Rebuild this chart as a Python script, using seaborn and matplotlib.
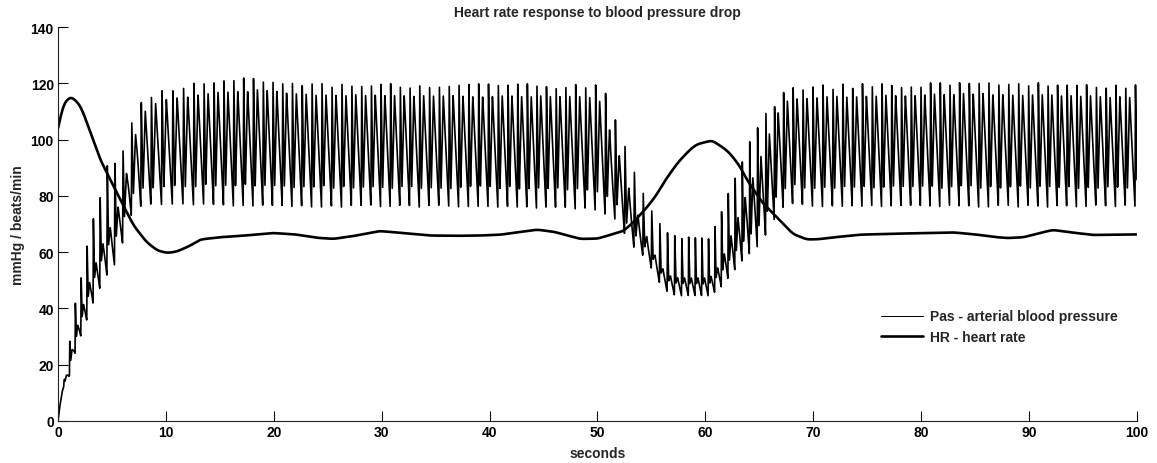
import numpy as np
import pandas as pd
import matplotlib
matplotlib.use("Agg")
import matplotlib.pyplot as plt
from matplotlib.lines import Line2D
import seaborn as sns

# ---------------- data ----------------
# heart rate (beats/min) at time knots (s)
hr_t = [0, 0.5, 1.2, 2.0, 2.35, 3.9, 5.6, 7.0, 8.2, 9.2, 10.1, 11.0, 12.2, 13.2, 15, 17, 19.9,
        22, 24, 25.5, 27.5, 29.8, 32, 34.5, 37, 39.1, 41, 42.5, 44.4, 46, 48.4, 50, 51.5,
        52.4, 53.3, 54.6, 55.5, 56.1, 57.0, 57.6, 58.6, 59.2, 60.6, 61.7, 62.3, 63.2, 63.8,
        64.5, 65.3, 66.6, 68.1, 69.4, 70.5, 72, 74.3, 77, 80.5, 83, 85, 86.7, 88, 89.5, 91,
        92.2, 93.5, 95.9, 98, 100]
hr_v = [104, 112.8, 115.4, 112.5, 109.5, 93, 80, 69.5, 63.6, 60.6, 59.7, 60.2, 62.2, 64.5, 65.3,
        65.8, 66.8, 66.3, 65.1, 64.7, 65.8, 67.5, 66.8, 65.9, 65.8, 65.9, 66.2, 67.0, 68.0, 67.2,
        64.7, 64.8, 66.5, 67.5, 70.5, 76, 80.5, 84.5, 89.5, 92.5, 96.5, 98.3, 99.7, 97, 95, 90.5,
        86, 82, 77.5, 72.5, 66.5, 64.5, 64.6, 65.3, 66.2, 66.5, 66.8, 67.0, 66.3, 65.4, 65.0,
        65.3, 66.8, 67.9, 67.2, 66.1, 66.2, 66.3]

# arterial pressure: systolic (beat peak) envelope
sys_t = [0, 0.5, 1.1, 1.65, 2.2, 2.8, 3.4, 4.0, 4.6, 5.4, 6.2, 6.5, 7.4, 8.4, 9.3, 11.5, 14, 17,
         19.5, 22, 25, 30, 35, 40, 45, 49.8, 50.7, 51.2, 52.1, 52.5, 53.2, 53.8, 54.6, 55.4,
         56.2, 56.9, 57.6, 60.2, 60.8, 61.4, 62.0, 62.6, 63.4, 64.2, 65.0, 65.7, 66.5, 67.2,
         68, 70, 75, 80, 85, 90, 95, 100]
sys_v = [0, 13, 29, 43, 53, 65, 74, 82, 92, 93, 98, 102, 113, 114.5, 118, 119.5, 121, 122,
         122.5, 121, 120.5, 120.5, 120, 120, 120, 119.8, 118, 111, 104, 98, 92, 85, 78, 73,
         69, 66.5, 65.8, 65.5, 69, 74, 80, 86, 93, 100, 106, 110, 114, 117, 119, 119.5, 120,
         120.5, 121, 120.5, 120, 119.5]

# arterial pressure: diastolic (beat trough) envelope
dia_t = [0, 0.15, 0.35, 0.6, 1.0, 1.3, 1.9, 2.6, 3.2, 3.85, 4.5, 5.2, 5.9, 6.5, 7.3, 10, 20,
         30, 40, 49.6, 52, 52.4, 53.3, 54.2, 55.2, 55.9, 56.7, 57.5, 60.5, 61.6, 62.3, 63.0,
         63.7, 64.4, 65.1, 65.9, 66.7, 67.8, 70, 80, 90, 100]
dia_v = [0, 5, 10, 13, 15, 20.5, 28, 35, 41.5, 47, 51.6, 55, 61.8, 71, 76, 77, 76, 76, 76, 75,
         71, 67, 62, 58.7, 53, 48, 45, 44.5, 44.5, 48, 51.6, 55, 58.3, 60, 63, 68, 74, 77,
         76, 76, 76, 76]

# beat shape: dicrotic notch level and second-peak level (fraction of pulse height)
shape_t = [0, 5, 8, 50, 53, 55.5, 61, 64, 67, 100]
notch_ratio = [0.25, 0.25, 0.15, 0.15, 0.16, 0.2, 0.2, 0.16, 0.15, 0.15]
second_ratio = [0.35, 0.4, 0.9, 0.9, 0.6, 0.3, 0.3, 0.6, 0.9, 0.9]


def smooth(y, sigma_pts):
    k = np.arange(-4 * sigma_pts, 4 * sigma_pts + 1)
    w = np.exp(-0.5 * (k / sigma_pts) ** 2)
    w /= w.sum()
    pad = len(k) // 2
    left = 2 * y[0] - y[1:pad + 1][::-1]
    right = 2 * y[-1] - y[-pad - 1:-1][::-1]
    yp = np.concatenate([left, y, right])
    return np.convolve(yp, w, mode="valid")


# ---------------- build the traces ----------------
dt = 0.01
t = np.arange(0, 100 + dt / 2, dt)
hr = smooth(np.interp(t, hr_t, hr_v), 22)
phase = np.cumsum(hr / 60.0 * dt)
phase -= np.interp(1.06, t, phase)
phi = np.mod(phase, 1.0)

S = np.interp(t, sys_t, sys_v)
D = np.interp(t, dia_t, dia_v)
nr = np.interp(t, shape_t, notch_ratio)
pr = np.interp(t, shape_t, second_ratio)

seg = np.array([0.0, 0.05, 0.22, 0.45, 1.0])
shape = np.empty_like(t)
for i in range(len(t)):
    shape[i] = np.interp(phi[i], seg, [0.0, 1.0, nr[i], pr[i], 0.0])
pas = D + (S - D) * shape

df_p = pd.DataFrame({"seconds": t, "value": pas})
df_h = pd.DataFrame({"seconds": t, "value": hr})

# ---------------- plot ----------------
sns.set_style("ticks")
plt.rcParams["font.family"] = ["Liberation Sans", "DejaVu Sans"]
plt.rcParams["font.weight"] = "bold"
fs = 10

fig = plt.figure(figsize=(11.57, 4.64), dpi=100)
ax = fig.add_axes([58 / 1157, 42 / 464, 1079 / 1157, 394 / 464])

sns.lineplot(data=df_p, x="seconds", y="value", ax=ax, color="black", lw=1.2,
             estimator=None, sort=False)
sns.lineplot(data=df_h, x="seconds", y="value", ax=ax, color="black", lw=1.9,
             estimator=None, sort=False)

ax.set_xlim(0, 100)
ax.set_ylim(0, 140)
ax.set_xticks(np.arange(0, 101, 10))
ax.set_yticks(np.arange(0, 141, 20))
ax.tick_params(direction="in", length=7, width=0.8, labelsize=fs, pad=3, colors="black")
for lab in ax.get_xticklabels() + ax.get_yticklabels():
    lab.set_fontweight("bold")
sns.despine(ax=ax)
for sp in ("left", "bottom"):
    ax.spines[sp].set_linewidth(0.8)
    ax.spines[sp].set_color("#222222")

ax.set_xlabel("seconds", fontsize=fs, fontweight="bold", labelpad=5)
ax.set_ylabel("mmHg / beats/min", fontsize=fs, fontweight="bold", labelpad=4)
ax.set_title("Heart rate response to blood pressure drop", fontsize=fs, fontweight="bold", pad=8)

handles = [Line2D([], [], color="black", lw=0.7), Line2D([], [], color="black", lw=1.9)]
ax.legend(handles, ["Pas - arterial blood pressure", "HR - heart rate"], loc="center left",
          bbox_to_anchor=((881 - 58) / 1079, (422 - 327.5) / 394), frameon=False,
          handlelength=3.0, handletextpad=0.5, labelspacing=0.45,
          borderpad=0, borderaxespad=0, prop={"weight": "bold", "size": fs})

fig.savefig("out.png", dpi=100)
